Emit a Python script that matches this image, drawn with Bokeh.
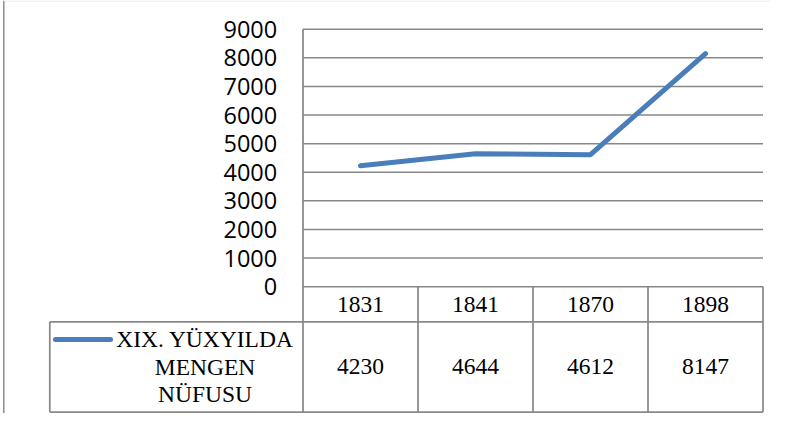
import numpy as np
from bokeh.plotting import figure
from bokeh.models import Range1d
from bokeh.core.properties import value
from bokeh.embed import file_html
from bokeh.resources import INLINE

# ---- data ----
years = ["1831", "1841", "1870", "1898"]
population = [4230, 4644, 4612, 8147]
y_ticks = [0, 1000, 2000, 3000, 4000, 5000, 6000, 7000, 8000, 9000]
series_label = ["XIX. YÜXYILDA", "MENGEN", "NÜFUSU"]

# ---- layout (page pixels) ----
W, H = 770, 413
OX, OY = 0, 0
PLOT_L, PLOT_R = 302.5, 762.5
Y0_PX, YMAX_PX = 286.2, 28.7
HDR_BOT = 321.3
TBL_BOT = 411.5
TBL_L = 49.3
YMAX = y_ticks[-1]
TICK_LABEL_R = 276.7
LEG_CX = 204.5
LEG_LINES_Y = [338.7, 366.2, 393.3]
KEY_X0, KEY_X1, KEY_Y = 55, 110, 339

BLUE = "#4a7ebb"
GRID = "#878787"
BORDER = "#898989"
AXIS_FONT = value("Open Sans")
TABLE_FONT = value("Liberation Serif")
FS = value("23.5px")


def fx(px):
    return px - OX


def fy(py):
    return py - OY


n = len(years)
col_w = (PLOT_R - PLOT_L) / n
col_range = Range1d(-fx(PLOT_L) / col_w, (W - fx(PLOT_L)) / col_w)
ppu = (Y0_PX - YMAX_PX) / YMAX
val_range = Range1d(-(H - fy(Y0_PX)) / ppu, YMAX + fy(YMAX_PX) / ppu)

p = figure(width=W, height=H, x_range=Range1d(0, W), y_range=Range1d(H, 0),
           output_backend="svg", toolbar_location=None,
           x_axis_type=None, y_axis_type=None, min_border=0)
p.extra_x_ranges = {"col": col_range}
p.extra_y_ranges = {"val": val_range}
p.outline_line_color = None
p.background_fill_color = "white"
p.border_fill_color = "white"
p.grid.visible = False

# gridlines
nt = len(y_ticks)
p.segment(x0=[0] * nt, x1=[n] * nt, y0=y_ticks, y1=y_ticks,
          x_range_name="col", y_range_name="val",
          line_color=GRID, line_width=1.5)

# y tick labels
p.text(x=[fx(TICK_LABEL_R)] * nt, y=y_ticks, text=[str(t) for t in y_ticks],
       y_range_name="val", text_align="right", text_baseline="middle",
       text_font=AXIS_FONT, text_font_size=FS, text_color="black")

# vertical axis line / table left boundary of columns
p.segment(x0=[fx(PLOT_L)], x1=[fx(PLOT_L)], y0=[fy(YMAX_PX)], y1=[fy(TBL_BOT)],
          line_color=BORDER, line_width=1.75)

# column boundaries in table
idx = list(range(1, n + 1))
p.segment(x0=idx, x1=idx, y0=[fy(Y0_PX)] * n, y1=[fy(TBL_BOT)] * n,
          x_range_name="col", line_color=BORDER, line_width=1.75)

# table horizontal lines
p.segment(x0=[fx(TBL_L), fx(TBL_L)], x1=[fx(PLOT_R), fx(PLOT_R)],
          y0=[fy(HDR_BOT), fy(TBL_BOT)], y1=[fy(HDR_BOT), fy(TBL_BOT)],
          line_color=BORDER, line_width=1.75)
# legend cell left edge
p.segment(x0=[fx(TBL_L)], x1=[fx(TBL_L)], y0=[fy(HDR_BOT)], y1=[fy(TBL_BOT)],
          line_color=BORDER, line_width=1.75)

# outer chart border (left edge, faint top edge)
p.segment(x0=[fx(3.3)], x1=[fx(3.3)], y0=[0], y1=[H],
          line_color="#8c8c8c", line_width=1.5)
p.segment(x0=[fx(3.3)], x1=[W], y0=[0.5], y1=[0.5],
          line_color="#e6e6e6", line_width=1)

# header years
centers = [i + 0.5 for i in range(n)]
p.text(x=centers, y=[fy((Y0_PX + HDR_BOT) / 2)] * n, text=years,
       x_range_name="col", text_align="center", text_baseline="middle",
       text_font=TABLE_FONT, text_font_size=FS, text_color="black")

# data values
p.text(x=centers, y=[fy((HDR_BOT + TBL_BOT) / 2)] * n,
       text=[str(v) for v in population],
       x_range_name="col", text_align="center", text_baseline="middle",
       text_font=TABLE_FONT, text_font_size=FS, text_color="black")

# legend key and series name
p.line(x=[fx(KEY_X0), fx(KEY_X1)], y=[fy(KEY_Y), fy(KEY_Y)],
       line_color=BLUE, line_width=5, line_cap="round")
p.text(x=[fx(LEG_CX)] * len(series_label), y=[fy(v) for v in LEG_LINES_Y],
       text=series_label, text_align="center", text_baseline="middle",
       text_font=TABLE_FONT, text_font_size=FS, text_color="black")

# data line
p.line(x=centers, y=population, x_range_name="col", y_range_name="val",
       line_color=BLUE, line_width=5, line_cap="round", line_join="round")

open("out.html", "w").write(file_html(p, INLINE))
